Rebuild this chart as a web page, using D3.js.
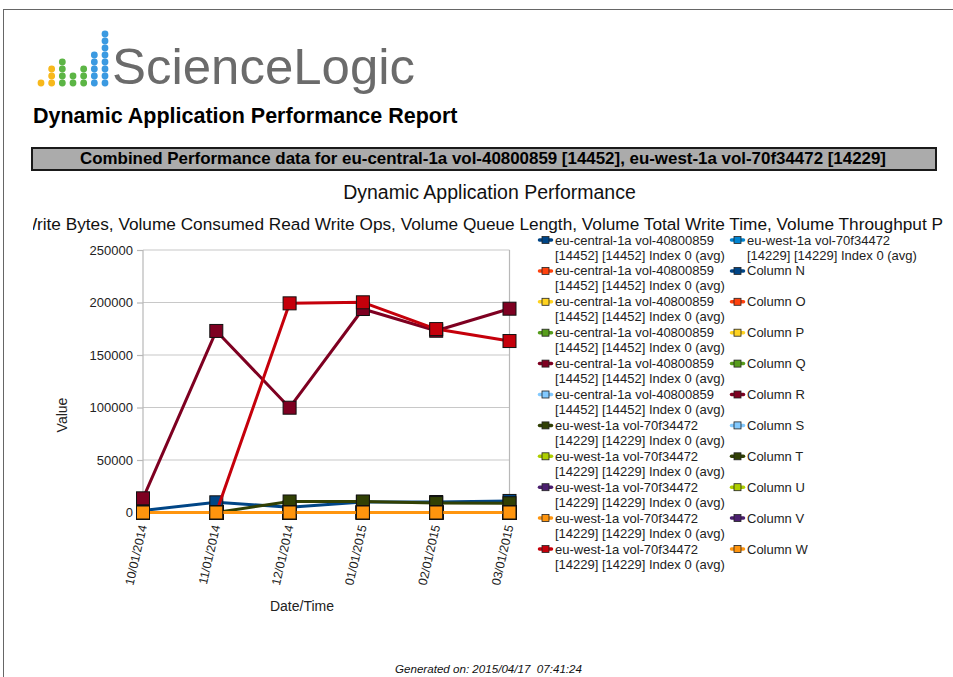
<!DOCTYPE html>
<html>
<head>
<meta charset="utf-8">
<script src="https://cdn.jsdelivr.net/npm/d3@7"></script>
<style>
  html, body { margin: 0; padding: 0; background: #fff; }
  svg { display: block; font-family: "Liberation Sans", Arial, sans-serif; }
</style>
</head>
<body>
<svg id="page" width="953" height="677"></svg>
<script>
// ---- Chart data ----
const dates = ["10/01/2014", "11/01/2014", "12/01/2014", "01/01/2015", "02/01/2015", "03/01/2015"];
const yTicks = [0, 50000, 100000, 150000, 200000, 250000];

const centralLine1 = "eu-central-1a vol-40800859";
const centralLine2 = "[14452] [14452] Index 0 (avg)";
const westLine1 = "eu-west-1a vol-70f34472";
const westLine2 = "[14229] [14229] Index 0 (avg)";

const seriesLabels = [
  [centralLine1, centralLine2], [centralLine1, centralLine2], [centralLine1, centralLine2],
  [centralLine1, centralLine2], [centralLine1, centralLine2], [centralLine1, centralLine2],
  [westLine1, westLine2], [westLine1, westLine2], [westLine1, westLine2],
  [westLine1, westLine2], [westLine1, westLine2], [westLine1, westLine2],
  ["Column N"], ["Column O"], ["Column P"], ["Column Q"], ["Column R"],
  ["Column S"], ["Column T"], ["Column U"], ["Column V"], ["Column W"]
];
const seriesColors = [
  "#004586", "#ff420e", "#ffd320", "#579d1c", "#7e0021", "#83caff",
  "#314004", "#aecf00", "#4b1f6f", "#ff950e", "#c5000b", "#0084d1",
  "#004586", "#ff420e", "#ffd320", "#579d1c", "#7e0021", "#83caff",
  "#314004", "#aecf00", "#4b1f6f", "#ff950e"
];

const centralBlue    = [2000, 9700, 5000, 10000, 10000, 11000];
const centralDarkRed = [13500, 172900, 99800, 193800, 173100, 194100];
const westDarkGreen  = [0, 0, 10500, 10500, 9000, 8800];
const westRed        = [0, 0, 199200, 200200, 174700, 163300];
const flat           = [0, 0, 0, 0, 0, 0];

const seriesValues = [
  centralBlue, flat, flat, flat, centralDarkRed, flat,
  westDarkGreen, flat, flat, flat, westRed, flat,
  flat, flat, flat, flat, flat, flat, flat, flat, flat, flat
];

// Logo bar heights (dots per column) and colours
const logoHeights = [1, 3, 4, 2, 3, 5, 8];
const logoColors  = ["#f7b81c", "#f7b81c", "#5cb545", "#5cb545", "#5cb545", "#3b9ae1", "#3b9ae1"];

// ---- Drawing ----
const svg = d3.select("#page");

// page frame
svg.append("line").attr("x1", 3).attr("x2", 953).attr("y1", 9.5).attr("y2", 9.5)
  .attr("stroke", "#666").attr("stroke-width", 1);
svg.append("line").attr("x1", 3.5).attr("x2", 3.5).attr("y1", 9).attr("y2", 677)
  .attr("stroke", "#666").attr("stroke-width", 1);

// logo
const logo = svg.append("g");
const logoX = d3.scaleLinear().domain([0, 6]).range([41, 105]);
logoHeights.forEach((n, c) => {
  d3.range(n).forEach(r => {
    logo.append("circle")
      .attr("cx", logoX(c)).attr("cy", 83 - r * 7).attr("r", 3.4)
      .attr("fill", logoColors[c]);
  });
});
logo.append("text").attr("x", 112).attr("y", 84)
  .attr("font-size", 50).attr("fill", "#6b6b6b")
  .attr("textLength", 303).attr("lengthAdjust", "spacingAndGlyphs")
  .text("ScienceLogic");

svg.append("text").attr("x", 33).attr("y", 123)
  .attr("font-size", 21.5).attr("font-weight", "bold").attr("fill", "#000")
  .text("Dynamic Application Performance Report");

// banner
svg.append("rect").attr("x", 32).attr("y", 148).attr("width", 904).attr("height", 22)
  .attr("fill", "#ababab").attr("stroke", "#1a1a1a").attr("stroke-width", 2);
svg.append("text").attr("x", 483).attr("y", 164).attr("text-anchor", "middle")
  .attr("font-family", "'Liberation Sans Narrow', 'Liberation Sans', Arial, sans-serif")
  .attr("font-size", 17).attr("font-weight", "bold").attr("fill", "#000")
  .attr("textLength", 806).attr("lengthAdjust", "spacingAndGlyphs")
  .text("Combined Performance data for eu-central-1a vol-40800859 [14452], eu-west-1a vol-70f34472 [14229]");

// chart titles
svg.append("text").attr("x", 489.5).attr("y", 199).attr("text-anchor", "middle")
  .attr("font-size", 19.5).attr("fill", "#111")
  .text("Dynamic Application Performance");

svg.append("clipPath").attr("id", "subClip")
  .append("rect").attr("x", 33).attr("y", 205).attr("width", 912).attr("height", 35);
svg.append("text").attr("clip-path", "url(#subClip)")
  .attr("x", 21).attr("y", 230)
  .attr("font-size", 17.2).attr("fill", "#111")
  .attr("textLength", 922).attr("lengthAdjust", "spacingAndGlyphs")
  .text("Write Bytes, Volume Consumed Read Write Ops, Volume Queue Length, Volume Total Write Time, Volume Throughput P");

// scales
const x = d3.scalePoint().domain(dates).range([143, 509.5]);
const y = d3.scaleLinear().domain([0, 250000]).range([512.5, 250]);

const plot = svg.append("g");

// gridlines
plot.selectAll("line.grid").data(yTicks).enter().append("line")
  .attr("class", "grid")
  .attr("x1", x.range()[0]).attr("x2", x.range()[1])
  .attr("y1", d => y(d)).attr("y2", d => y(d))
  .attr("stroke", "#c8c8c8").attr("stroke-width", 1.2);
// side frame
[x.range()[0], x.range()[1]].forEach(px => {
  plot.append("line").attr("x1", px).attr("x2", px)
    .attr("y1", y(250000)).attr("y2", y(0))
    .attr("stroke", "#b8b8b8").attr("stroke-width", 1.2);
});

// y axis
const yAxis = plot.append("g").attr("transform", `translate(${x.range()[0]},0)`)
  .call(d3.axisLeft(y).tickValues(yTicks).tickSize(6).tickPadding(4).tickFormat(d3.format("d")));
yAxis.select(".domain").remove();
yAxis.selectAll(".tick line").attr("stroke", "#b8b8b8").attr("stroke-width", 1.2);
yAxis.selectAll(".tick text").attr("font-size", 13).attr("fill", "#222")
  .attr("font-family", "'Liberation Sans', Arial, sans-serif");

// x axis ticks
const xAxis = plot.append("g").attr("transform", `translate(0,${y(0)})`)
  .call(d3.axisBottom(x).tickSize(4).tickFormat(""));
xAxis.select(".domain").remove();
xAxis.selectAll(".tick line").attr("stroke", "#b8b8b8");

// rotated x labels
plot.selectAll("text.xlab").data(dates).enter().append("text")
  .attr("class", "xlab")
  .attr("text-anchor", "end")
  .attr("font-size", 12.3).attr("fill", "#222")
  .attr("transform", d => `translate(${x(d) + 4},526) rotate(-77)`)
  .text(d => d);

// axis titles
svg.append("text").attr("transform", "translate(67,415) rotate(-90)")
  .attr("text-anchor", "middle").attr("font-size", 14).attr("fill", "#222")
  .text("Value");
svg.append("text").attr("x", 302).attr("y", 611).attr("text-anchor", "middle")
  .attr("font-size", 14).attr("fill", "#222")
  .text("Date/Time");

// series
const line = d3.line().x((d, i) => x(dates[i])).y(d => y(d));
const msize = 13;
seriesValues.forEach((vals, s) => {
  const g = plot.append("g");
  g.append("path").datum(vals)
    .attr("d", line).attr("fill", "none")
    .attr("stroke", seriesColors[s]).attr("stroke-width", 3)
    .attr("stroke-linejoin", "round");
  g.selectAll("rect").data(vals).enter().append("rect")
    .attr("x", (d, i) => x(dates[i]) - msize / 2)
    .attr("y", d => y(d) - msize / 2)
    .attr("width", msize).attr("height", msize)
    .attr("fill", seriesColors[s]).attr("stroke", "#111").attr("stroke-width", 1);
});

// legend: two columns of 11 entries
const legend = svg.append("g");
const colX = [545.5, 737.5];
const rowY = d3.scaleLinear().domain([0, 10]).range([240, 549]);
seriesLabels.forEach((lab, s) => {
  const col = Math.floor(s / 11), row = s % 11;
  const cx = colX[col], cy = rowY(row);
  legend.append("line").attr("x1", cx - 6).attr("x2", cx + 6).attr("y1", cy).attr("y2", cy)
    .attr("stroke", seriesColors[s]).attr("stroke-width", 3.5).attr("stroke-linecap", "round");
  legend.append("rect").attr("x", cx - 3.5).attr("y", cy - 3.5).attr("width", 7).attr("height", 7)
    .attr("fill", seriesColors[s]).attr("stroke", "#222").attr("stroke-width", 0.8);
  const t = legend.append("text").attr("font-size", 13).attr("fill", "#222");
  lab.forEach((ln, k) => {
    t.append("tspan").attr("x", cx + 9.5).attr("y", cy + 4.5 + k * 15).text(ln);
  });
});

// footer
svg.append("text").attr("x", 488.5).attr("y", 673).attr("text-anchor", "middle")
  .attr("font-size", 10.8).attr("font-style", "italic").attr("fill", "#111")
  .attr("textLength", 187).attr("lengthAdjust", "spacingAndGlyphs")
  .style("white-space", "pre")
  .text("Generated on: 2015/04/17  07:41:24");
</script>
</body>
</html>
